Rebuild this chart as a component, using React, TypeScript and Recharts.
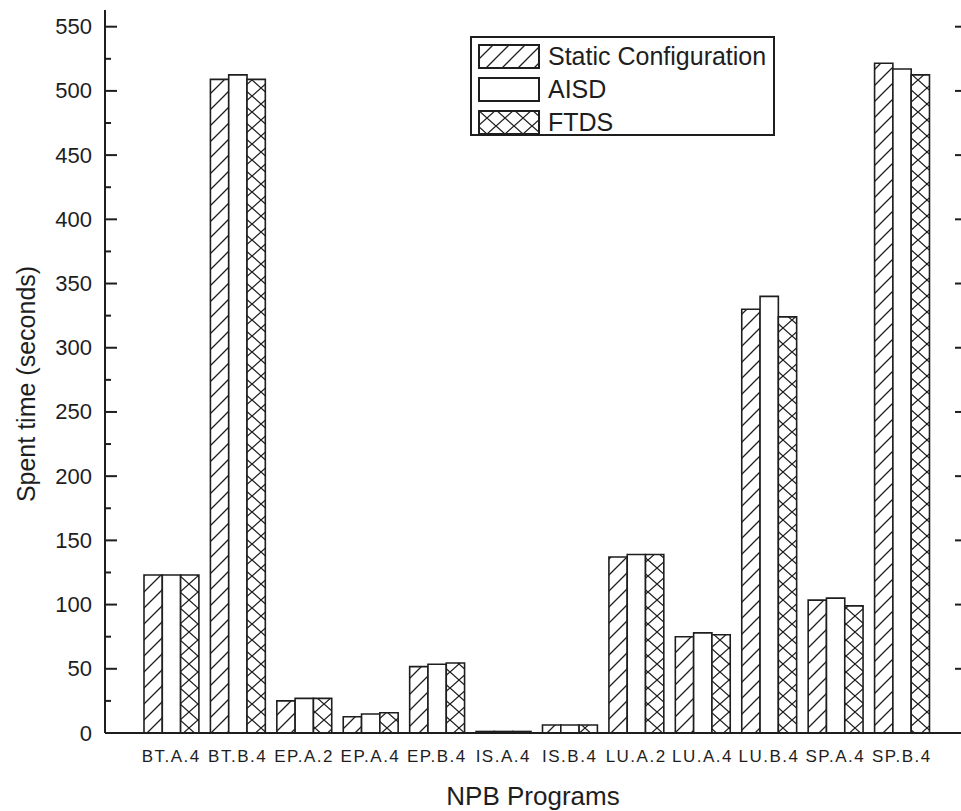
import React from 'react';
import { BarChart, Bar, XAxis, YAxis, Legend } from 'recharts';

// NPB benchmark programs on the x axis
const PROGRAMS = ['BT.A.4', 'BT.B.4', 'EP.A.2', 'EP.A.4', 'EP.B.4', 'IS.A.4', 'IS.B.4', 'LU.A.2', 'LU.A.4', 'LU.B.4', 'SP.A.4', 'SP.B.4'];

// spent time in seconds
const STATIC_CONFIG = [123, 509, 25, 12.7, 51.7, 1.2, 6.2, 137, 75, 330, 103.5, 521.5];
const AISD = [123, 512.5, 27, 14.8, 53.5, 1.2, 6.2, 139, 78, 340, 105, 517];
const FTDS = [123, 509, 27, 15.8, 54.5, 1.2, 6.2, 139, 76.5, 324, 99, 512.5];

const Y_TICKS = [0, 25, 50, 75, 100, 125, 150, 175, 200, 225, 250, 275, 300, 325, 350, 375, 400, 425, 450, 475, 500, 525, 550];
const SERIES_NAMES = ['Static Configuration', 'AISD', 'FTDS'];

const INK = '#1e1e1e';
const FONT = '"Liberation Sans", Arial, Helvetica, sans-serif';

// frame edges (chart is 967 wide, clipped to 961 so the right frame line falls off the page)
const CHART_W = 967;
const LEFT_W = 105;
const FRAME_RIGHT = CHART_W;

const data = PROGRAMS.map((name, i) => ({
  name,
  staticConfig: STATIC_CONFIG[i],
  aisd: AISD[i],
  ftds: FTDS[i],
}));

const FILLS = ['url(#hatchDiag)', '#ffffff', 'url(#hatchCross)'];

// draws the inward ticks on both the left axis and the right frame
const FrameTick = (props: any) => {
  const { y, payload } = props;
  const v = payload.value;
  const major = v % 50 === 0;
  const len = major ? 12 : 6;
  return (
    <g>
      <line x1={LEFT_W} x2={LEFT_W + len} y1={y} y2={y} stroke={INK} strokeWidth={2} />
      <line x1={FRAME_RIGHT} x2={FRAME_RIGHT - len} y1={y} y2={y} stroke={INK} strokeWidth={2} />
      {major && (
        <text x={LEFT_W - 13} y={y} textAnchor="end" dominantBaseline="central" fontSize={22} fill={INK}>
          {v}
        </text>
      )}
    </g>
  );
};

const XTick = (props: any) => {
  const { x, payload } = props;
  return (
    <text x={x} y={762} textAnchor="middle" fontSize={17} letterSpacing={1.5} fill={INK}>
      {payload.value}
    </text>
  );
};

const XTitle = () => (
  <text x={533} y={805} textAnchor="middle" fontSize={26} fill={INK}>
    NPB Programs
  </text>
);

const YTitle = () => (
  <text
    x={26}
    y={384}
    transform="rotate(-90 26 384)"
    textAnchor="middle"
    dominantBaseline="central"
    fontSize={25}
    fill={INK}
  >
    Spent time (seconds)
  </text>
);

const LegendBox = () => (
  <div
    style={{
      width: 305,
      height: 100,
      border: `2px solid ${INK}`,
      boxSizing: 'border-box',
      padding: '2px 0 0 6px',
      background: '#fff',
      fontFamily: FONT,
    }}
  >
    {SERIES_NAMES.map((name, i) => (
      <div key={name} style={{ display: 'flex', alignItems: 'center', height: 33 }}>
        <svg width={62} height={25} style={{ display: 'block' }}>
          <rect x={1} y={1} width={60} height={23} fill={FILLS[i]} stroke={INK} strokeWidth={2} />
        </svg>
        <span style={{ marginLeft: 8, fontSize: 25, color: INK, lineHeight: '25px' }}>{name}</span>
      </div>
    ))}
  </div>
);

export default function App() {
  return (
    <div
      style={{
        position: 'absolute',
        left: 0,
        top: 0,
        width: 961,
        height: 811,
        overflow: 'hidden',
        background: '#fff',
        fontFamily: FONT,
      }}
    >
      <BarChart
        width={CHART_W}
        height={811}
        data={data}
        margin={{ top: 10, right: 0, left: 0, bottom: 38 }}
        barGap={0}
        barSize={18.3}
      >
        <defs>
          <pattern id="hatchDiag" width={16} height={16} patternUnits="userSpaceOnUse">
            <path d="M-4,4 L4,-4 M0,16 L16,0 M12,20 L20,12" stroke={INK} strokeWidth={1.3} />
          </pattern>
          <pattern id="hatchCross" width={18} height={16} patternUnits="userSpaceOnUse">
            <rect width={18} height={16} fill="#fff" />
            <path d="M0,0 L18,16 M18,0 L0,16" stroke={INK} strokeWidth={1.3} />
          </pattern>
        </defs>
        <XAxis
          dataKey="name"
          type="category"
          height={40}
          interval={0}
          tickLine={false}
          tick={<XTick />}
          axisLine={{ stroke: INK, strokeWidth: 2 }}
          padding={{ left: 33, right: 32 }}
          label={{ content: XTitle }}
        />
        <XAxis
          xAxisId="top"
          dataKey="name"
          orientation="top"
          height={0}
          tick={false}
          tickLine={false}
          axisLine={{ stroke: INK, strokeWidth: 2 }}
        />
        <YAxis
          type="number"
          width={LEFT_W}
          domain={[0, 563]}
          ticks={Y_TICKS}
          interval={0}
          tickLine={false}
          tick={<FrameTick />}
          axisLine={{ stroke: INK, strokeWidth: 2 }}
          allowDataOverflow
          label={{ content: YTitle }}
        />
        <Legend
          layout="vertical"
          align="center"
          verticalAlign="middle"
          content={<LegendBox />}
          wrapperStyle={{ left: 470, top: 36, width: 305, height: 100 }}
        />
        <Bar dataKey="staticConfig" name={SERIES_NAMES[0]} fill={FILLS[0]} stroke={INK} strokeWidth={1.6} isAnimationActive={false} />
        <Bar dataKey="aisd" name={SERIES_NAMES[1]} fill={FILLS[1]} stroke={INK} strokeWidth={1.6} isAnimationActive={false} />
        <Bar dataKey="ftds" name={SERIES_NAMES[2]} fill={FILLS[2]} stroke={INK} strokeWidth={1.6} isAnimationActive={false} />
      </BarChart>
    </div>
  );
}
